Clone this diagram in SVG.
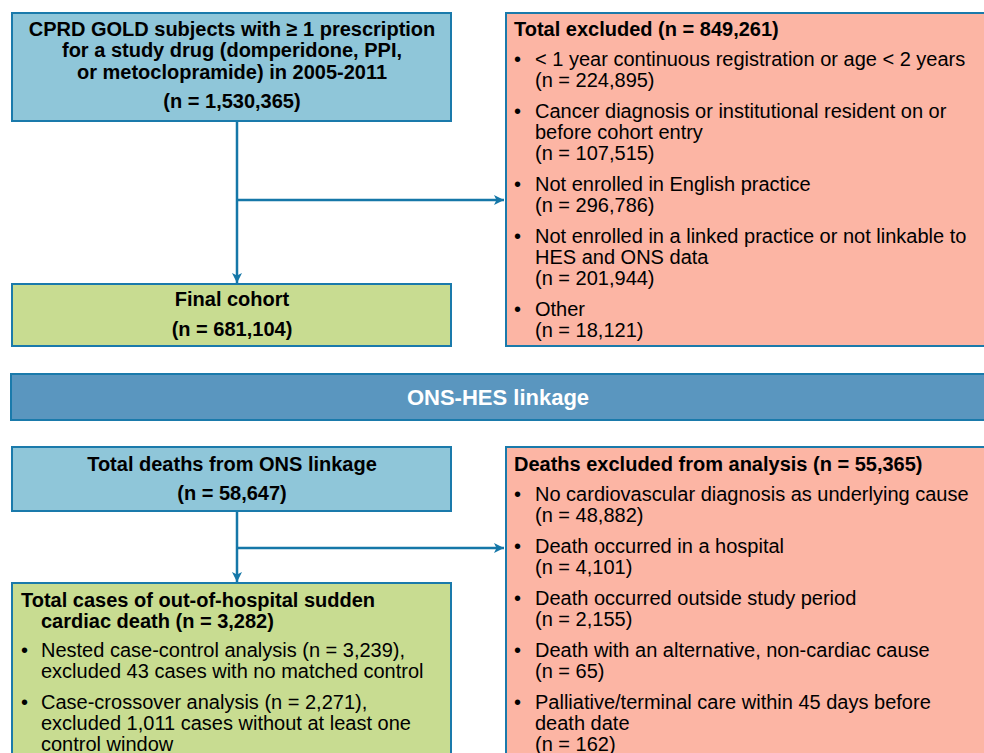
<svg xmlns="http://www.w3.org/2000/svg" width="984" height="753" viewBox="0 0 984 753">
<defs>
<marker id="ah" markerWidth="10" markerHeight="10" viewBox="0 0 10 10" refX="10" refY="5" orient="auto" markerUnits="userSpaceOnUse">
<path d="M0,0 L10,5 L0,10 L2.5,5 Z" fill="#1577a8"/>
</marker>
</defs>
<style>
.box{stroke:#1a7aab;stroke-width:2}
.blue{fill:#8fc6d9}
.pink{fill:#fcb5a4}
.green{fill:#c8dc91}
.band{fill:#5a96bf}
text{font-family:"Liberation Sans",Arial,sans-serif;font-size:20px;fill:#000}
.b{font-weight:bold}
.c{text-anchor:middle}
.w{fill:#fff;font-size:22px}
.con{stroke:#1577a8;stroke-width:2.5;fill:none}
</style>
<rect width="984" height="753" fill="#fff"/>
<g id="connectors">
<line class="con" x1="237" y1="121" x2="237" y2="283" marker-end="url(#ah)"/>
<line class="con" x1="237" y1="200" x2="504" y2="200" marker-end="url(#ah)"/>
<line class="con" x1="237" y1="511" x2="237" y2="582" marker-end="url(#ah)"/>
<line class="con" x1="237" y1="548" x2="504" y2="548" marker-end="url(#ah)"/>
</g>
<g id="start">
<rect class="box blue" x="12" y="13" width="439" height="108"/>
<text class="b c" x="232" y="36">CPRD GOLD subjects with ≥ 1 prescription</text>
<text class="b c" x="232" y="57">for a study drug (domperidone, PPI,</text>
<text class="b c" x="232" y="79">or metoclopramide) in 2005-2011</text>
<text class="b c" x="232" y="108">(n = 1,530,365)</text>
</g>
<g id="excluded1">
<rect class="box pink" x="506" y="13" width="480" height="333"/>
<text class="b" x="514" y="36">Total excluded (n = 849,261)</text>
<text x="514" y="66">•</text><text x="535" y="66">&lt; 1 year continuous registration or age &lt; 2 years</text>
<text x="535" y="87">(n = 224,895)</text>
<text x="514" y="118">•</text><text x="535" y="118">Cancer diagnosis or institutional resident on or</text>
<text x="535" y="139">before cohort entry</text>
<text x="535" y="160">(n = 107,515)</text>
<text x="514" y="191">•</text><text x="535" y="191">Not enrolled in English practice</text>
<text x="535" y="212">(n = 296,786)</text>
<text x="514" y="243">•</text><text x="535" y="243">Not enrolled in a linked practice or not linkable to</text>
<text x="535" y="264">HES and ONS data</text>
<text x="535" y="285">(n = 201,944)</text>
<text x="514" y="316">•</text><text x="535" y="316">Other</text>
<text x="535" y="337">(n = 18,121)</text>
</g>
<g id="final">
<rect class="box green" x="12" y="284" width="439" height="62"/>
<text class="b c" x="232" y="306">Final cohort</text>
<text class="b c" x="232" y="336">(n = 681,104)</text>
</g>
<g id="banner">
<rect class="box band" x="11" y="374" width="976" height="46"/>
<text class="b c w" x="498" y="405">ONS-HES linkage</text>
</g>
<g id="deaths">
<rect class="box blue" x="12" y="447" width="439" height="64"/>
<text class="b c" x="232" y="471">Total deaths from ONS linkage</text>
<text class="b c" x="232" y="500">(n = 58,647)</text>
</g>
<g id="excluded2">
<rect class="box pink" x="506" y="447" width="480" height="320"/>
<text class="b" x="514" y="471">Deaths excluded from analysis (n = 55,365)</text>
<text x="514" y="501">•</text><text x="535" y="501">No cardiovascular diagnosis as underlying cause</text>
<text x="535" y="522">(n = 48,882)</text>
<text x="514" y="553">•</text><text x="535" y="553">Death occurred in a hospital</text>
<text x="535" y="574">(n = 4,101)</text>
<text x="514" y="605">•</text><text x="535" y="605">Death occurred outside study period</text>
<text x="535" y="626">(n = 2,155)</text>
<text x="514" y="657">•</text><text x="535" y="657">Death with an alternative, non-cardiac cause</text>
<text x="535" y="678">(n = 65)</text>
<text x="514" y="709">•</text><text x="535" y="709">Palliative/terminal care within 45 days before</text>
<text x="535" y="730">death date</text>
<text x="535" y="751">(n = 162)</text>
</g>
<g id="cases">
<rect class="box green" x="12" y="583" width="439" height="184"/>
<text class="b" x="21" y="607">Total cases of out-of-hospital sudden</text>
<text class="b" x="41" y="628">cardiac death (n = 3,282)</text>
<text x="21" y="657">•</text><text x="41" y="657">Nested case-control analysis (n = 3,239),</text>
<text x="41" y="678">excluded 43 cases with no matched control</text>
<text x="21" y="709">•</text><text x="41" y="709">Case-crossover analysis (n = 2,271),</text>
<text x="41" y="730">excluded 1,011 cases without at least one</text>
<text x="41" y="751">control window</text>
</g>
</svg>
